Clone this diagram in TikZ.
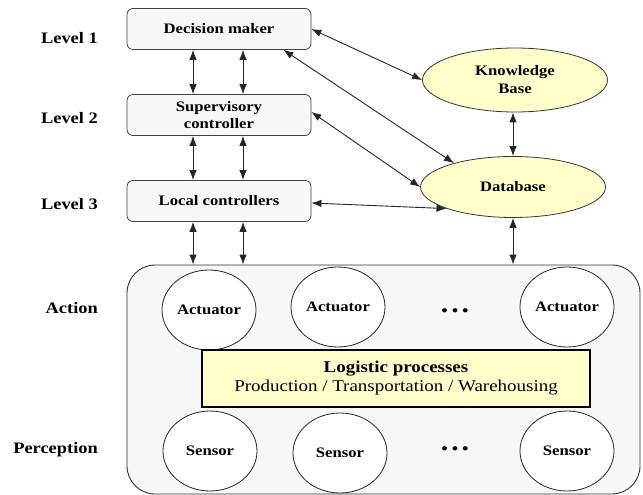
\documentclass[tikz,border=0pt]{standalone}
\usepackage{fontspec}
\setmainfont{Liberation Serif}[FakeStretch=1.15]
\usetikzlibrary{shapes.geometric,arrows.meta}
\definecolor{paleyellow}{HTML}{FFFFCC}
\definecolor{boxgray}{HTML}{F7F7F7}
\begin{document}
\begin{tikzpicture}[x=1pt,y=-1pt,
  lvl/.style={font=\fontsize{16}{18}\selectfont\bfseries, anchor=east, inner sep=0pt},
  ctrl/.style={draw=black!75, fill=boxgray, rounded corners=6pt, line width=0.8pt,
    minimum width=184pt, minimum height=41pt, align=center, inner sep=0pt,
    font=\fontsize{14.5}{17.5}\selectfont\bfseries},
  store/.style={ellipse, draw=black!80, fill=paleyellow, align=center, inner sep=0pt,
    line width=0.8pt, font=\fontsize{14.5}{18}\selectfont\bfseries},
  dev/.style={ellipse, draw=black!85, fill=white, minimum width=94pt, minimum height=80pt,
    inner sep=0pt, line width=0.8pt, font=\fontsize{14.5}{17}\selectfont\bfseries},
  dots/.style={font=\fontsize{26}{26}\selectfont\bfseries, inner sep=0pt},
  arr/.style={{Latex[length=10pt,width=7.5pt]}-{Latex[length=10pt,width=7.5pt]}, line width=0.9pt, black!85}
]
\useasboundingbox (0,0) rectangle (643,495);

% level labels
\node[lvl] (l1) at (98,38) {Level 1};
\node[lvl] (l2) at (98,118) {Level 2};
\node[lvl] (l3) at (98,204) {Level 3};
\node[lvl] (la) at (98,308) {Action};
\node[lvl] (lp) at (98,450) {Perception};

% controllers
\node[ctrl] (dm) at (219,29) {Decision maker};
\node[ctrl] (sc) at (219,115) {Supervisory\\controller};
\node[ctrl] (lc) at (219,201) {Local controllers};

% stores
\node[store, minimum width=185pt, minimum height=64pt] (kb) at (515,80) {Knowledge\\Base};
\node[store, minimum width=185pt, minimum height=61pt] (db) at (513,187) {Database};

% plant
\node[draw=black!80, fill=boxgray, rounded corners=28pt, line width=0.9pt,
  minimum width=513pt, minimum height=229pt, inner sep=0pt] (plant) at (383.5,379.5) {};

\node[dev] (a1) at (209,310) {Actuator};
\node[dev] (a2) at (338,307) {Actuator};
\node[dev] (a3) at (567,307) {Actuator};
\node[dots] (d1) at (455,311) {.\hspace{3pt}.\hspace{3pt}.};

\node[draw=black, fill=paleyellow, line width=2pt, minimum width=388pt, minimum height=57pt,
  inner sep=0pt, align=center, font=\fontsize{16.5}{19}\selectfont] (lp2) at (396,378.5)
  {\textbf{Logistic processes}\\Production / Transportation / Warehousing};

\node[dev] (s1) at (210,451) {Sensor};
\node[dev] (s2) at (340,453) {Sensor};
\node[dev] (s3) at (567,451) {Sensor};
\node[dots] (d2) at (455,449) {.\hspace{3pt}.\hspace{3pt}.};

% column coordinates
\coordinate (c1) at (193,0);
\coordinate (c2) at (243,0);
\coordinate (c3) at (513,0);

% vertical arrows
\draw[arr] (dm.south -| c1) -- (sc.north -| c1);
\draw[arr] (dm.south -| c2) -- (sc.north -| c2);
\draw[arr] (sc.south -| c1) -- (lc.north -| c1);
\draw[arr] (sc.south -| c2) -- (lc.north -| c2);
\draw[arr] (lc.south -| c1) -- (plant.north -| c1);
\draw[arr] (lc.south -| c2) -- (plant.north -| c2);
\draw[arr] (kb.south -| c3) -- (db.north -| c3);
\draw[arr] (db.south -| c3) -- (plant.north -| c3);

% diagonal arrows
\draw[arr] (dm.east) -- (kb.west);
\draw[arr] ([xshift=-28pt]dm.south east) -- (db.158);
\draw[arr] ([yshift=3pt]sc.east) -- (db.west);
\draw[arr] ([yshift=-2pt]lc.east) -- (db.198);
\end{tikzpicture}
\end{document}
